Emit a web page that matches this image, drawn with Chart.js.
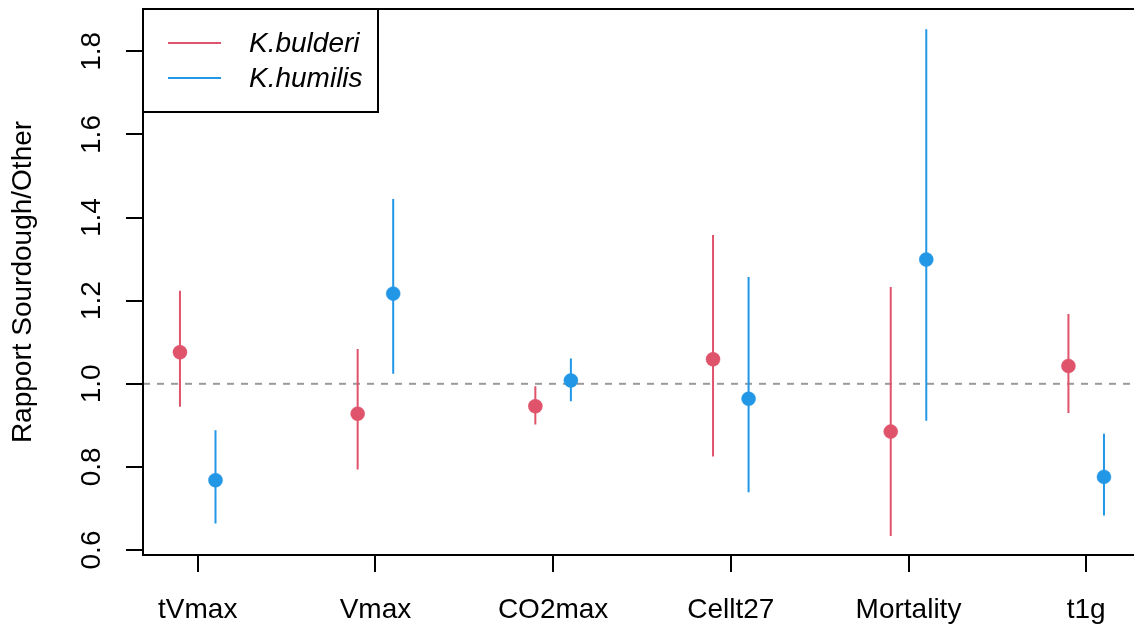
<!DOCTYPE html>
<html>
<head>
<meta charset="utf-8">
<script src="https://cdn.jsdelivr.net/npm/chart.js@4.4.1/dist/chart.umd.min.js"></script>
<style>
  html, body { margin: 0; padding: 0; background: #fff; overflow: hidden; }
  canvas { display: block; }
</style>
</head>
<body>
<canvas id="ratioChart" width="1134" height="632"></canvas>
<script>
// values
const categories = ['tVmax', 'Vmax', 'CO2max', 'Cellt27', 'Mortality', 't1g'];
const bulderiMean = [1.076, 0.928, 0.946, 1.059, 0.885, 1.043];
const bulderiLow  = [0.945, 0.794, 0.902, 0.825, 0.634, 0.930];
const bulderiHigh = [1.224, 1.084, 0.994, 1.358, 1.233, 1.168];
const humilisMean = [0.768, 1.217, 1.008, 0.964, 1.299, 0.776];
const humilisLow  = [0.664, 1.024, 0.958, 0.739, 0.911, 0.683];
const humilisHigh = [0.888, 1.445, 1.061, 1.257, 1.853, 0.880];
const yTicks = [0.6, 0.8, 1.0, 1.2, 1.4, 1.6, 1.8];
const refValue = 1.0;

const redCol = '#DF536B';
const blueCol = '#2297E6';
const xMin = 0.692, xMax = 6.269;
const yMin = 0.588, yMax = 1.902;
const shift = 0.1;

Chart.defaults.font.family = '"Liberation Sans", Arial, Helvetica, sans-serif';
Chart.defaults.font.size = 28;
Chart.defaults.color = '#000';

function pointsOf(means, dx) {
    return means.map((v, i) => ({ x: i + 1 + dx, y: v }));
}

function barsOf(lows, highs, dx) {
    const out = [];
    lows.forEach((lo, i) => {
        out.push({ x: i + 1 + dx, y: lo });
        out.push({ x: i + 1 + dx, y: highs[i] });
        out.push({ x: i + 1 + dx, y: null });
    });
    return out;
}

const framePlugin = {
    id: 'frame',
    afterDraw(chart) {
        const ctx = chart.ctx;
        const a = chart.chartArea;
        ctx.save();
        ctx.strokeStyle = '#000';
        ctx.lineWidth = 2;
        ctx.beginPath();
        ctx.moveTo(a.right + 5, a.top);
        ctx.lineTo(a.left, a.top);
        ctx.lineTo(a.left, a.bottom);
        ctx.lineTo(a.right + 5, a.bottom);
        ctx.stroke();

        // legend box, top-left corner of the plot
        const lx = a.left, ly = a.top, lw = 235, lh = 103;
        ctx.fillStyle = '#fff';
        ctx.fillRect(lx, ly, lw, lh);
        ctx.strokeRect(lx, ly, lw, lh);
        const items = [chart.data.datasets[0], chart.data.datasets[1]];
        items.forEach((ds, i) => {
            const y = ly + 34 + i * 35;
            ctx.strokeStyle = ds.backgroundColor;
            ctx.lineWidth = 2;
            ctx.beginPath();
            ctx.moveTo(lx + 25, y);
            ctx.lineTo(lx + 78, y);
            ctx.stroke();
            ctx.fillStyle = '#000';
            ctx.font = 'italic 28px "Liberation Sans", Arial, sans-serif';
            ctx.textBaseline = 'middle';
            ctx.textAlign = 'left';
            ctx.fillText(ds.label, lx + 106, y + 1);
        });
        ctx.restore();
    }
};

const ctx = document.getElementById('ratioChart');

new Chart(ctx.getContext('2d'), {
    type: 'scatter',
    data: {
        datasets: [
            {
                label: 'K.bulderi',
                data: pointsOf(bulderiMean, -shift),
                backgroundColor: redCol,
                borderColor: redCol,
                pointRadius: 7,
                borderWidth: 0.5,
                order: 1
            },
            {
                label: 'K.humilis',
                data: pointsOf(humilisMean, shift),
                backgroundColor: blueCol,
                borderColor: blueCol,
                pointRadius: 7,
                borderWidth: 0.5,
                order: 1
            },
            {
                type: 'line',
                label: 'bulderi range',
                data: barsOf(bulderiLow, bulderiHigh, -shift),
                borderColor: redCol,
                borderWidth: 2,
                pointRadius: 0,
                spanGaps: false,
                order: 2
            },
            {
                type: 'line',
                label: 'humilis range',
                data: barsOf(humilisLow, humilisHigh, shift),
                borderColor: blueCol,
                borderWidth: 2,
                pointRadius: 0,
                spanGaps: false,
                order: 2
            },
            {
                type: 'line',
                label: 'ref',
                data: [{ x: xMin, y: refValue }, { x: xMax, y: refValue }],
                borderColor: '#9a9a9a',
                borderWidth: 2,
                borderDash: [7, 7],
                pointRadius: 0,
                order: 3
            }
        ]
    },
    options: {
        responsive: false,
        animation: false,
        layout: { autoPadding: false, padding: { top: 9, left: 0, right: 0, bottom: 0 } },
        plugins: {
            legend: { display: false },
            tooltip: { enabled: false }
        },
        scales: {
            x: {
                type: 'linear',
                min: xMin,
                max: xMax,
                grid: { drawOnChartArea: false, drawTicks: true, tickLength: 17, color: '#000', lineWidth: 2 },
                border: { display: false },
                ticks: {
                    autoSkip: false,
                    maxRotation: 0,
                    padding: 21,
                    callback: (v) => categories[Math.round(v) - 1]
                },
                afterBuildTicks: (scale) => {
                    scale.ticks = categories.map((c, i) => ({ value: i + 1 }));
                },
                afterFit: (scale) => {
                    scale.height = 77;
                    scale.paddingLeft = 0;
                    scale.paddingRight = 0;
                }
            },
            y: {
                min: yMin,
                max: yMax,
                grid: { drawOnChartArea: false, drawTicks: true, tickLength: 17, color: '#000', lineWidth: 2 },
                border: { display: false },
                ticks: {
                    autoSkip: false,
                    minRotation: 90,
                    maxRotation: 90,
                    crossAlign: 'center',
                    padding: 14.5,
                    callback: (v) => v.toFixed(1)
                },
                afterBuildTicks: (scale) => {
                    scale.ticks = yTicks.map(v => ({ value: v }));
                },
                title: {
                    display: true,
                    text: 'Rapport Sourdough/Other',
                    padding: { top: 6.5, bottom: 0 }
                },
                afterFit: (scale) => {
                    scale.width = 143;
                    scale.paddingTop = 0;
                    scale.paddingBottom = 0;
                }
            }
        }
    },
    plugins: [framePlugin]
});
</script>
</body>
</html>
